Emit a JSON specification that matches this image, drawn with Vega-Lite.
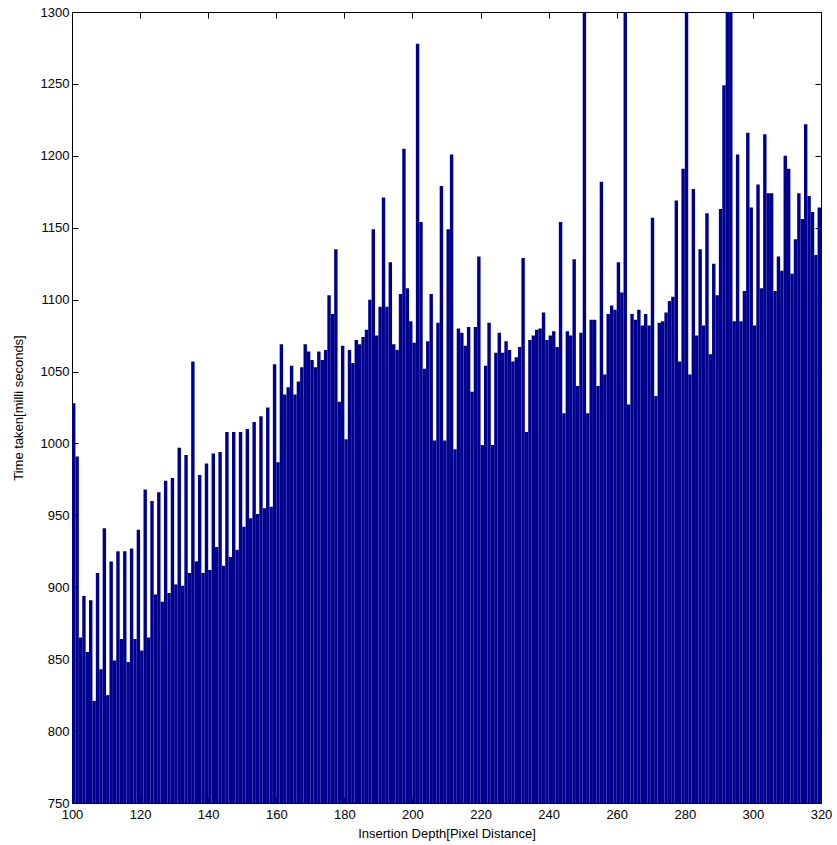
{
  "$schema": "https://vega.github.io/schema/vega-lite/v6.json",
  "autosize": "none",
  "width": 749,
  "height": 791,
  "padding": {"left": 72, "top": 12, "right": 16, "bottom": 42},
  "background": "white",
  "config": {
    "view": {"stroke": null},
    "font": "Liberation Sans",
    "axis": {"labelFont": "Liberation Sans", "titleFont": "Liberation Sans", "labelFontSize": 13, "titleFontSize": 13, "titleFontWeight": "normal", "labelColor": "black", "titleColor": "black", "domainColor": "black", "tickColor": "black", "grid": false, "labelFlush": false}
  },
  "data": {"values": [
    {"depth":100,"time":1028},{"depth":101,"time":991},{"depth":102,"time":865},{"depth":103,"time":894},{"depth":104,"time":855},
    {"depth":105,"time":891},{"depth":106,"time":821},{"depth":107,"time":910},{"depth":108,"time":843},{"depth":109,"time":941},
    {"depth":110,"time":825},{"depth":111,"time":918},{"depth":112,"time":849},{"depth":113,"time":925},{"depth":114,"time":864},
    {"depth":115,"time":925},{"depth":116,"time":848},{"depth":117,"time":927},{"depth":118,"time":864},{"depth":119,"time":940},
    {"depth":120,"time":856},{"depth":121,"time":968},{"depth":122,"time":865},{"depth":123,"time":960},{"depth":124,"time":895},
    {"depth":125,"time":966},{"depth":126,"time":890},{"depth":127,"time":974},{"depth":128,"time":896},{"depth":129,"time":976},
    {"depth":130,"time":902},{"depth":131,"time":997},{"depth":132,"time":901},{"depth":133,"time":992},{"depth":134,"time":910},
    {"depth":135,"time":1057},{"depth":136,"time":918},{"depth":137,"time":978},{"depth":138,"time":910},{"depth":139,"time":986},
    {"depth":140,"time":912},{"depth":141,"time":993},{"depth":142,"time":928},{"depth":143,"time":994},{"depth":144,"time":915},
    {"depth":145,"time":1008},{"depth":146,"time":921},{"depth":147,"time":1008},{"depth":148,"time":926},{"depth":149,"time":1008},
    {"depth":150,"time":942},{"depth":151,"time":1010},{"depth":152,"time":948},{"depth":153,"time":1015},{"depth":154,"time":951},
    {"depth":155,"time":1019},{"depth":156,"time":955},{"depth":157,"time":1025},{"depth":158,"time":956},{"depth":159,"time":1055},
    {"depth":160,"time":987},{"depth":161,"time":1069},{"depth":162,"time":1034},{"depth":163,"time":1039},{"depth":164,"time":1054},
    {"depth":165,"time":1034},{"depth":166,"time":1043},{"depth":167,"time":1053},{"depth":168,"time":1069},{"depth":169,"time":1064},
    {"depth":170,"time":1058},{"depth":171,"time":1053},{"depth":172,"time":1064},{"depth":173,"time":1058},{"depth":174,"time":1065},
    {"depth":175,"time":1103},{"depth":176,"time":1090},{"depth":177,"time":1135},{"depth":178,"time":1029},{"depth":179,"time":1068},
    {"depth":180,"time":1003},{"depth":181,"time":1065},{"depth":182,"time":1056},{"depth":183,"time":1072},{"depth":184,"time":1069},
    {"depth":185,"time":1074},{"depth":186,"time":1079},{"depth":187,"time":1100},{"depth":188,"time":1149},{"depth":189,"time":1075},
    {"depth":190,"time":1095},{"depth":191,"time":1171},{"depth":192,"time":1095},{"depth":193,"time":1126},{"depth":194,"time":1069},
    {"depth":195,"time":1065},{"depth":196,"time":1104},{"depth":197,"time":1205},{"depth":198,"time":1108},{"depth":199,"time":1085},
    {"depth":200,"time":1070},{"depth":201,"time":1278},{"depth":202,"time":1154},{"depth":203,"time":1052},{"depth":204,"time":1071},
    {"depth":205,"time":1104},{"depth":206,"time":1002},{"depth":207,"time":1084},{"depth":208,"time":1179},{"depth":209,"time":1002},
    {"depth":210,"time":1149},{"depth":211,"time":1201},{"depth":212,"time":996},{"depth":213,"time":1080},{"depth":214,"time":1077},
    {"depth":215,"time":1068},{"depth":216,"time":1081},{"depth":217,"time":1036},{"depth":218,"time":1081},{"depth":219,"time":1130},
    {"depth":220,"time":999},{"depth":221,"time":1054},{"depth":222,"time":1084},{"depth":223,"time":999},{"depth":224,"time":1063},
    {"depth":225,"time":1077},{"depth":226,"time":1063},{"depth":227,"time":1071},{"depth":228,"time":1065},{"depth":229,"time":1057},
    {"depth":230,"time":1060},{"depth":231,"time":1067},{"depth":232,"time":1129},{"depth":233,"time":1008},{"depth":234,"time":1072},
    {"depth":235,"time":1075},{"depth":236,"time":1079},{"depth":237,"time":1080},{"depth":238,"time":1091},{"depth":239,"time":1072},
    {"depth":240,"time":1075},{"depth":241,"time":1078},{"depth":242,"time":1067},{"depth":243,"time":1154},{"depth":244,"time":1021},
    {"depth":245,"time":1078},{"depth":246,"time":1075},{"depth":247,"time":1128},{"depth":248,"time":1040},{"depth":249,"time":1077},
    {"depth":250,"time":1320},{"depth":251,"time":1021},{"depth":252,"time":1086},{"depth":253,"time":1086},{"depth":254,"time":1040},
    {"depth":255,"time":1182},{"depth":256,"time":1048},{"depth":257,"time":1090},{"depth":258,"time":1096},{"depth":259,"time":1093},
    {"depth":260,"time":1126},{"depth":261,"time":1105},{"depth":262,"time":1320},{"depth":263,"time":1027},{"depth":264,"time":1090},
    {"depth":265,"time":1086},{"depth":266,"time":1093},{"depth":267,"time":1082},{"depth":268,"time":1090},{"depth":269,"time":1082},
    {"depth":270,"time":1157},{"depth":271,"time":1033},{"depth":272,"time":1084},{"depth":273,"time":1085},{"depth":274,"time":1091},
    {"depth":275,"time":1099},{"depth":276,"time":1102},{"depth":277,"time":1169},{"depth":278,"time":1057},{"depth":279,"time":1191},
    {"depth":280,"time":1320},{"depth":281,"time":1048},{"depth":282,"time":1177},{"depth":283,"time":1075},{"depth":284,"time":1135},
    {"depth":285,"time":1082},{"depth":286,"time":1160},{"depth":287,"time":1062},{"depth":288,"time":1125},{"depth":289,"time":1103},
    {"depth":290,"time":1163},{"depth":291,"time":1249},{"depth":292,"time":1320},{"depth":293,"time":1320},{"depth":294,"time":1085},
    {"depth":295,"time":1201},{"depth":296,"time":1085},{"depth":297,"time":1106},{"depth":298,"time":1216},{"depth":299,"time":1164},
    {"depth":300,"time":1082},{"depth":301,"time":1180},{"depth":302,"time":1108},{"depth":303,"time":1215},{"depth":304,"time":1174},
    {"depth":305,"time":1174},{"depth":306,"time":1106},{"depth":307,"time":1130},{"depth":308,"time":1120},{"depth":309,"time":1200},
    {"depth":310,"time":1191},{"depth":311,"time":1118},{"depth":312,"time":1142},{"depth":313,"time":1174},{"depth":314,"time":1156},
    {"depth":315,"time":1222},{"depth":316,"time":1172},{"depth":317,"time":1161},{"depth":318,"time":1131},{"depth":319,"time":1164}
  ]},
  "resolve": {"axis": {"x": "independent", "y": "independent"}},
  "layer": [
    {
      "mark": {"type": "bar", "color": "#00008F", "width": 3.42, "xOffset": 1.71, "clip": true},
      "encoding": {
        "x": {"field": "depth", "type": "quantitative", "scale": {"domain": [100, 320], "nice": false, "zero": false, "padding": 0},
              "axis": {"orient": "bottom", "values": [100,120,140,160,180,200,220,240,260,280,300,320], "format": "d", "tickSize": -6, "labelPadding": 11, "labelFlush": false, "title": "Insertion Depth[Pixel Distance]", "titlePadding": 6}},
        "y": {"field": "time", "type": "quantitative", "scale": {"domain": [750, 1300], "nice": false, "zero": false, "padding": 0},
              "axis": {"orient": "left", "values": [750,800,850,900,950,1000,1050,1100,1150,1200,1250,1300], "format": "d", "tickSize": -6, "labelPadding": 9, "labelFlush": false, "title": "Time taken[milli seconds]", "titlePadding": 15}},
        "y2": {"datum": 750}
      }
    },
    {
      "mark": {"type": "point", "opacity": 0},
      "encoding": {
        "x": {"field": "depth", "type": "quantitative", "axis": {"orient": "top", "values": [100,120,140,160,180,200,220,240,260,280,300,320], "tickSize": -6, "labels": false, "title": null}},
        "y": {"field": "time", "type": "quantitative", "axis": {"orient": "right", "values": [750,800,850,900,950,1000,1050,1100,1150,1200,1250,1300], "tickSize": -6, "labels": false, "title": null}}
      }
    }
  ]
}
